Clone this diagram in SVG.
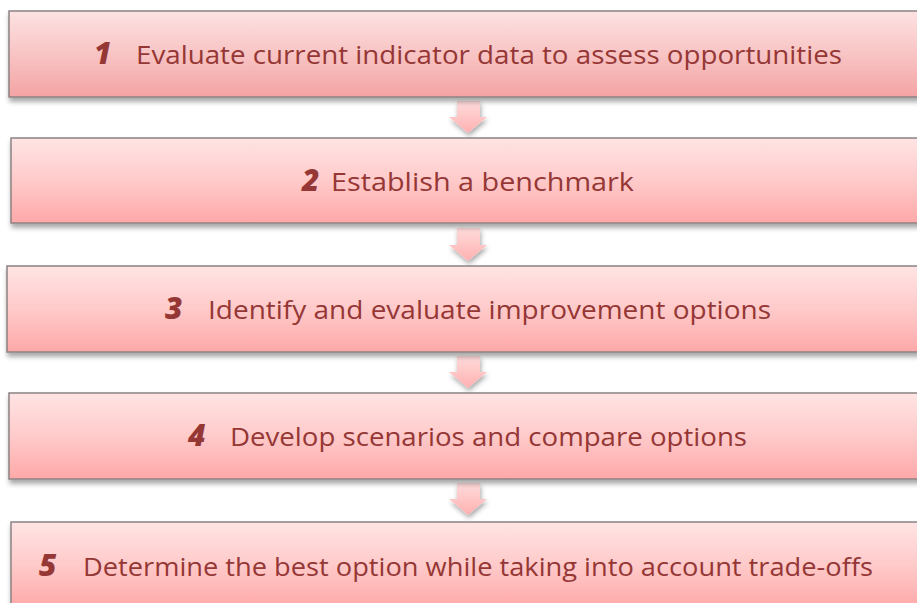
<svg xmlns="http://www.w3.org/2000/svg" width="917" height="603" viewBox="0 0 917 603">
<defs>
<linearGradient id="boxg" x1="0" y1="0" x2="0" y2="1">
<stop offset="0" stop-color="#FFE4E4"/>
<stop offset="0.5" stop-color="#FFCACA"/>
<stop offset="1" stop-color="#FFA8A8"/>
</linearGradient>
<linearGradient id="boxg1" x1="0" y1="0" x2="0" y2="1">
<stop offset="0" stop-color="#FDE2E2"/>
<stop offset="0.5" stop-color="#F8C4C4"/>
<stop offset="1" stop-color="#F4A3A3"/>
</linearGradient>
<linearGradient id="arrg" x1="0" y1="0" x2="0" y2="1">
<stop offset="0" stop-color="#FFDCDC"/>
<stop offset="1" stop-color="#FFB0B0"/>
</linearGradient>
<filter id="sh" x="-5%" y="-20%" width="110%" height="150%">
<feDropShadow dx="1" dy="4" stdDeviation="2.5" flood-color="#000" flood-opacity="0.35"/>
</filter>
<filter id="ash" x="-50%" y="-50%" width="200%" height="200%">
<feDropShadow dx="1" dy="3" stdDeviation="2.5" flood-color="#000" flood-opacity="0.35"/>
</filter>
</defs>
<style>
.box{stroke:#8C8282;stroke-width:1.5;filter:url(#sh)}
.arr{fill:url(#arrg);filter:url(#ash)}
.num{font-family:"Open Sans","DejaVu Sans",sans-serif;font-weight:800;font-style:italic;font-size:30px;fill:#953735}
.lbl{font-family:"Open Sans","DejaVu Sans",sans-serif;font-size:26px;fill:#953735}
</style>
<g id="connectors">
<path class="arr" d="M457,101 H480 V117 H487 L468,133 L449,117 H457 Z"/>
<path class="arr" d="M457,228 H480 V245 H487 L468,261 L449,245 H457 Z"/>
<path class="arr" d="M457,356 H480 V372 H487 L468,388 L449,372 H457 Z"/>
<path class="arr" d="M457,483 H480 V499 H487 L468,515 L449,499 H457 Z"/>
</g>
<g id="step1">
<rect class="box" x="9" y="11" width="920" height="86" fill="url(#boxg1)"/>
<text class="num" x="94" y="64">1</text>
<text class="lbl" x="136" y="64" textLength="706" lengthAdjust="spacingAndGlyphs">Evaluate current indicator data to assess opportunities</text>
</g>
<g id="step2">
<rect class="box" x="11" y="138" width="920" height="85" fill="url(#boxg)"/>
<text class="num" x="302" y="191">2</text>
<text class="lbl" x="331" y="191" textLength="303" lengthAdjust="spacingAndGlyphs">Establish a benchmark</text>
</g>
<g id="step3">
<rect class="box" x="7" y="266" width="920" height="86" fill="url(#boxg)"/>
<text class="num" x="165" y="319">3</text>
<text class="lbl" x="208" y="319" textLength="563" lengthAdjust="spacingAndGlyphs">Identify and evaluate improvement options</text>
</g>
<g id="step4">
<rect class="box" x="9" y="393" width="920" height="86" fill="url(#boxg)"/>
<text class="num" x="188" y="446">4</text>
<text class="lbl" x="230" y="446" textLength="517" lengthAdjust="spacingAndGlyphs">Develop scenarios and compare options</text>
</g>
<g id="step5">
<rect class="box" x="11" y="522" width="920" height="86" fill="url(#boxg)"/>
<text class="num" x="39" y="576">5</text>
<text class="lbl" x="83" y="576" textLength="790" lengthAdjust="spacingAndGlyphs">Determine the best option while taking into account trade-offs</text>
</g>
</svg>
